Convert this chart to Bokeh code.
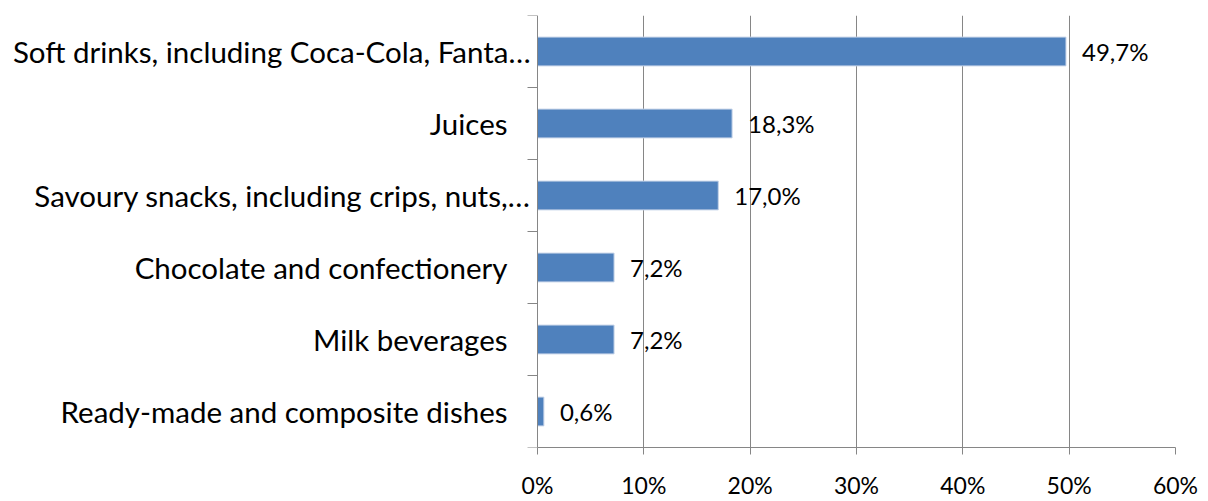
from bokeh.plotting import figure
from bokeh.models import Range1d, FixedTicker, ColumnDataSource
from bokeh.embed import file_html
from bokeh.resources import INLINE

categories = [
    "Soft drinks, including Coca-Cola, Fanta…",
    "Juices",
    "Savoury snacks, including crips, nuts,…",
    "Chocolate and confectionery",
    "Milk beverages",
    "Ready-made and composite dishes",
]
values = [49.7, 18.3, 17.0, 7.2, 7.2, 0.6]
x_ticks = [0, 10, 20, 30, 40, 50, 60]
x_tick_labels = ["0%", "10%", "20%", "30%", "40%", "50%", "60%"]

n = len(categories)
ypos = [n - i for i in range(n)]  # top category at top
labels_txt = [f"{v:.1f}".replace(".", ",") + "%" for v in values]
cat_offsets = [-7 if c.endswith("…") else -30 for c in categories]

FONT = "Lato"
GRAY = "#868686"

# frame spans the whole width left of the right margin; value 0 sits at px 537
FRAME_LEFT_PX = 0
ZERO_PX = 537
RIGHT_PX = 1175
xmin = -(ZERO_PX - FRAME_LEFT_PX) / (RIGHT_PX - ZERO_PX) * 60

p = figure(width=1208, height=501, output_backend="svg", toolbar_location=None,
           x_range=Range1d(xmin, 60), y_range=Range1d(0.5, n + 0.5),
           min_border_left=0, min_border_right=1208 - RIGHT_PX,
           min_border_top=15, min_border_bottom=46)
p.outline_line_color = None
p.background_fill_color = "white"

src = ColumnDataSource(dict(y=ypos, v=values, lab=labels_txt, cat=categories,
                            off=cat_offsets, zero=[0] * n))
p.hbar(y="y", right="v", left=0, height=0.4, source=src,
       fill_color="#4F81BD", line_color="#C5D3E8", line_width=1)

# data labels
p.text(x="v", y="y", text="lab", source=src, x_offset=16, text_align="left",
       text_baseline="middle", text_font_size="24px", text_color="black",
       text_font={"value": FONT})

# category labels
p.text(x="zero", y="y", text="cat", source=src, x_offset="off", text_align="right",
       text_baseline="middle", text_font_size="29.5px", text_color="black",
       text_font={"value": FONT})

# x axis
xa = p.xaxis[0]
xa.ticker = FixedTicker(ticks=x_ticks)
xa.bounds = (0, 60)
xa.major_label_overrides = {t: l for t, l in zip(x_ticks, x_tick_labels)}
xa.axis_line_color = GRAY
xa.major_tick_line_color = GRAY
xa.major_tick_out = 7
xa.major_tick_in = 0
xa.minor_tick_line_color = None
xa.major_label_standoff = 16
xa.major_label_text_font = FONT
xa.major_label_text_font_size = "23px"
xa.major_label_text_color = "black"

# y axis at value 0: tick marks at category boundaries, no labels
ybounds = [i + 0.5 for i in range(n + 1)]
ya = p.yaxis[0]
ya.fixed_location = 0
ya.ticker = FixedTicker(ticks=ybounds)
ya.major_label_overrides = {t: "" for t in ybounds}
ya.major_label_standoff = 0
ya.axis_line_color = GRAY
ya.major_tick_line_color = GRAY
ya.major_tick_out = 10
ya.major_tick_in = 0
ya.minor_tick_line_color = None

p.xgrid.grid_line_color = GRAY
p.xgrid.ticker = FixedTicker(ticks=x_ticks[1:])
p.ygrid.grid_line_color = None

open("out.html", "w").write(file_html(p, INLINE))
